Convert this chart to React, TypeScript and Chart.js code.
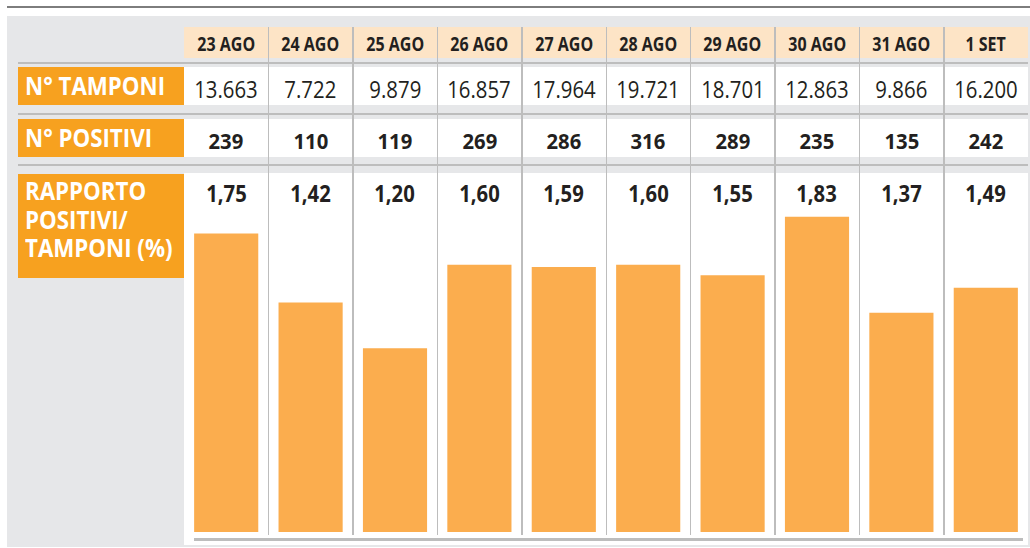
import React, { useEffect, useRef } from "react";
import { Chart, registerables } from "chart.js";

Chart.register(...registerables);

const dates = ["23 AGO", "24 AGO", "25 AGO", "26 AGO", "27 AGO", "28 AGO", "29 AGO", "30 AGO", "31 AGO", "1 SET"];
const tamponi = [13663, 7722, 9879, 16857, 17964, 19721, 18701, 12863, 9866, 16200];
const positivi = [239, 110, 119, 269, 286, 316, 289, 235, 135, 242];
const rapporto = [1.75, 1.42, 1.2, 1.6, 1.59, 1.6, 1.55, 1.83, 1.37, 1.49];
const rowLabels = ["N° TAMPONI", "N° POSITIVI"];
const ratioLabel = ["RAPPORTO", "POSITIVI/", "TAMPONI (%)"];

const FONT = "'Open Sans', 'Noto Sans', sans-serif";
const ORANGE = "#f7a11f";
const BAR = "#fbad4e";
const PEACH = "#fde4c6";
const PANEL = "#e6e7e9";
const LINE = "#bdbdbd";
const TEXT = "#231f20";

const X0 = 184;
const COLW = 84.4;
const NCOL = dates.length;
const X1 = X0 + COLW * NCOL;

function fmtThousands(n: number): string {
  const s = String(n);
  return s.replace(/\B(?=(\d{3})+(?!\d))/g, ".");
}
function fmtRatio(v: number): string {
  return v.toFixed(2).replace(".", ",");
}

const abs = (l: number, t: number, w: number, h: number, extra: React.CSSProperties = {}): React.CSSProperties => ({
  position: "absolute",
  left: l,
  top: t,
  width: w,
  height: h,
  ...extra,
});

function BarChart() {
  const ref = useRef<HTMLCanvasElement | null>(null);
  useEffect(() => {
    if (!ref.current) return;
    const chart = new Chart(ref.current, {
      type: "bar",
      data: {
        labels: dates,
        datasets: [
          {
            data: rapporto,
            backgroundColor: BAR,
            borderWidth: 0,
            barPercentage: 0.76,
            categoryPercentage: 1,
          },
        ],
      },
      options: {
        animation: false,
        responsive: false,
        maintainAspectRatio: false,
        devicePixelRatio: 1,
        layout: { padding: 0 },
        plugins: { legend: { display: false }, tooltip: { enabled: false }, title: { display: false } },
        scales: {
          x: { display: false, offset: true },
          y: { display: false, min: 0.32, max: 2.04 },
        },
      },
    });
    return () => chart.destroy();
  }, []);
  return (
    <canvas
      ref={ref}
      width={Math.round(COLW * NCOL)}
      height={359}
      style={{ position: "absolute", left: X0, top: 173, width: Math.round(COLW * NCOL), height: 359 }}
    />
  );
}

export default function App() {
  const cellText = (
    text: string,
    i: number,
    top: number,
    h: number,
    style: React.CSSProperties,
    sx: number,
    key: string
  ) => (
    <div
      key={key}
      style={abs(X0 + i * COLW, top, COLW, h, {
        display: "flex",
        alignItems: "center",
        justifyContent: "center",
        color: TEXT,
        fontFamily: FONT,
        whiteSpace: "nowrap",
        ...style,
      })}
    >
      <span style={{ display: "inline-block", transform: `scaleX(${sx})`, transformOrigin: "center" }}>{text}</span>
    </div>
  );

  const orangeLabel: React.CSSProperties = {
    background: ORANGE,
    color: "#ffffff",
    fontFamily: FONT,
    fontWeight: 700,
    fontSize: 24.5,
    boxSizing: "border-box",
    paddingLeft: 7,
    whiteSpace: "nowrap",
  };
  const labelSpan: React.CSSProperties = { display: "inline-block", transform: "scaleX(0.91)", transformOrigin: "left" };

  return (
    <div style={{ position: "absolute", left: 0, top: 0, width: 1030, height: 548, background: "#ffffff", overflow: "hidden" }}>
      {/* top rule */}
      <div style={abs(7, 6, 1023, 1.5, { background: "#7d7d7d" })} />
      {/* grey panel */}
      <div style={abs(7, 16, 1023, 531, { background: PANEL })} />
      {/* header peach */}
      <div style={abs(X0, 27, X1 - X0, 31, { background: PEACH })} />
      {/* white rows */}
      <div style={abs(X0, 67, X1 - X0, 38, { background: "#ffffff" })} />
      <div style={abs(X0, 119, X1 - X0, 38, { background: "#ffffff" })} />
      <div style={abs(X0, 173, X1 - X0, 372, { background: "#ffffff" })} />
      {/* horizontal rules */}
      {[62, 113, 164].map((y) => (
        <div key={"h" + y} style={abs(18, y, X1 - 18, 2, { background: LINE })} />
      ))}
      {/* vertical rules */}
      {dates.slice(1).map((_, i) => (
        <div key={"v" + i} style={abs(X0 + (i + 1) * COLW - 0.5, 27, 1.5, 508, { background: LINE })} />
      ))}
      {/* orange labels */}
      <div style={abs(18, 67, X0 - 18, 38, { ...orangeLabel, lineHeight: "37px" })}>
        <span style={labelSpan}>{rowLabels[0]}</span>
      </div>
      <div style={abs(18, 119, X0 - 18, 38, { ...orangeLabel, lineHeight: "37px" })}>
        <span style={labelSpan}>{rowLabels[1]}</span>
      </div>
      <div style={abs(18, 174, X0 - 18, 104, { ...orangeLabel, lineHeight: "28.5px", paddingTop: 3 })}>
        {ratioLabel.map((t, i) => (
          <div key={"rl" + i}>
            <span style={labelSpan}>{t}</span>
          </div>
        ))}
      </div>
      {/* header labels */}
      {dates.map((d, i) => cellText(d, i, 28, 31, { fontWeight: 700, fontSize: 19.5 }, 0.82, "d" + i))}
      {tamponi.map((v, i) => cellText(fmtThousands(v), i, 67, 44, { fontWeight: 400, fontSize: 23 }, 0.885, "t" + i))}
      {positivi.map((v, i) => cellText(String(v), i, 119, 42, { fontWeight: 700, fontSize: 22 }, 0.92, "p" + i))}
      {rapporto.map((v, i) => cellText(fmtRatio(v), i, 174, 38, { fontWeight: 700, fontSize: 22.5 }, 0.9, "r" + i))}
      <BarChart />
      {/* bottom rule */}
      <div style={abs(194, 538, 829, 2.5, { background: LINE })} />
    </div>
  );
}
